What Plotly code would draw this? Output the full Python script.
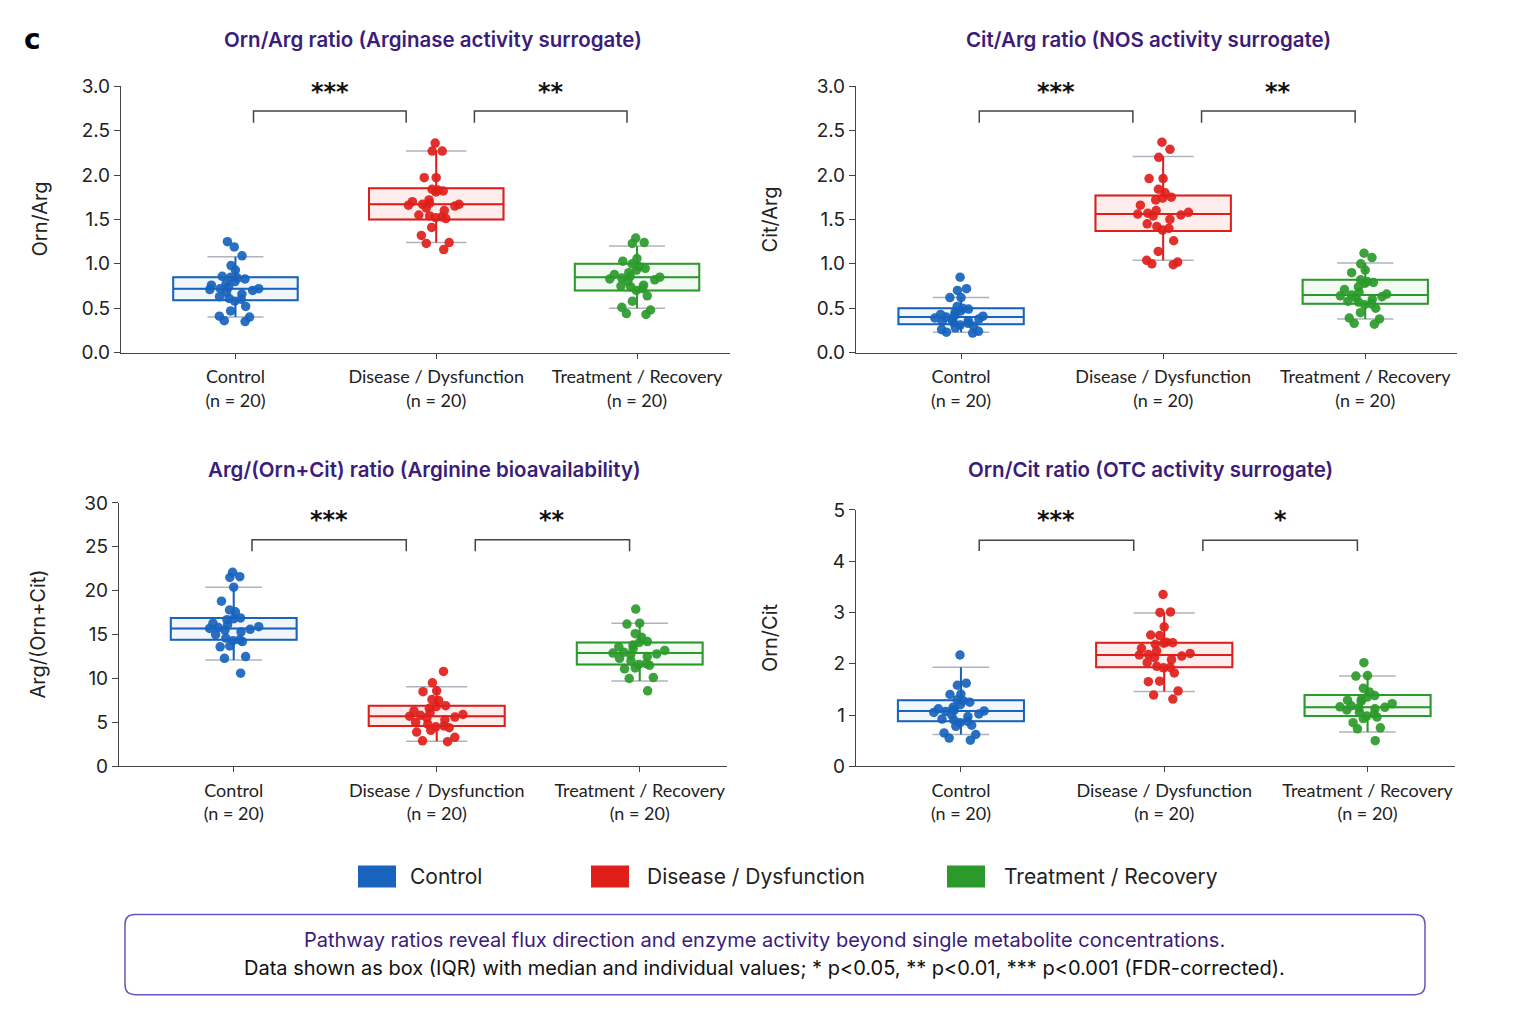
import plotly.graph_objects as go

W, H = 1536, 1024

groups = ["Control", "Disease / Dysfunction", "Treatment / Recovery"]
group_n = [20, 20, 20]
colors = ["#1763bd", "#e01f1b", "#2b9a2b"]
fills = ["rgba(23,99,189,0.06)", "rgba(224,31,27,0.08)", "rgba(43,154,43,0.06)"]
cap_color = "rgba(120,130,145,0.6)"

panel_titles = [
    "Orn/Arg ratio (Arginase activity surrogate)",
    "Cit/Arg ratio (NOS activity surrogate)",
    "Arg/(Orn+Cit) ratio (Arginine bioavailability)",
    "Orn/Cit ratio (OTC activity surrogate)",
]
y_titles = ["Orn/Arg", "Cit/Arg", "Arg/(Orn+Cit)", "Orn/Cit"]
y_ranges = [[0, 3], [0, 3], [0, 30], [0, 5]]
y_dticks = [0.5, 0.5, 5, 1]
y_formats = [".1f", ".1f", "d", "d"]

# ---- individual values (per panel, per group) ----
orn_arg_control = [1.25, 1.19, 1.09, 0.98, 0.93, 0.86, 0.85, 0.84, 0.83, 0.80, 0.78, 0.76, 0.74, 0.72,
                   0.72, 0.71, 0.70, 0.68, 0.66, 0.63, 0.61, 0.60, 0.58, 0.52, 0.47, 0.41, 0.40, 0.35, 0.36]
orn_arg_disease = [2.36, 2.27, 2.27, 1.97, 1.97, 1.84, 1.83, 1.82, 1.81, 1.72, 1.70, 1.68, 1.67, 1.67,
                   1.66, 1.65, 1.63, 1.60, 1.55, 1.54, 1.53, 1.52, 1.51, 1.41, 1.32, 1.24, 1.23, 1.16]
orn_arg_treatment = [1.29, 1.24, 1.23, 1.06, 1.03, 1.00, 0.97, 0.95, 0.93, 0.90, 0.88, 0.86, 0.85, 0.84,
                     0.83, 0.82, 0.80, 0.76, 0.75, 0.74, 0.72, 0.70, 0.64, 0.58, 0.51, 0.48, 0.43, 0.44]

cit_arg_control = [0.85, 0.72, 0.70, 0.62, 0.62, 0.52, 0.50, 0.49, 0.47, 0.45, 0.43, 0.42, 0.41, 0.40,
                   0.39, 0.38, 0.37, 0.36, 0.35, 0.34, 0.33, 0.31, 0.30, 0.28, 0.26, 0.23, 0.22, 0.24]
cit_arg_disease = [2.37, 2.29, 2.20, 1.96, 1.96, 1.84, 1.80, 1.75, 1.74, 1.72, 1.66, 1.60, 1.58, 1.57,
                   1.56, 1.55, 1.54, 1.50, 1.45, 1.42, 1.40, 1.38, 1.26, 1.14, 1.04, 1.00, 0.99, 1.02]
cit_arg_treatment = [1.12, 1.07, 1.00, 0.93, 0.90, 0.82, 0.80, 0.79, 0.78, 0.74, 0.71, 0.68, 0.66, 0.65,
                     0.64, 0.63, 0.62, 0.60, 0.58, 0.57, 0.55, 0.54, 0.50, 0.45, 0.39, 0.38, 0.32, 0.33]

arg_bio_control = [22.1, 21.5, 21.6, 20.4, 18.8, 17.8, 17.6, 16.9, 16.8, 16.7, 16.3, 16.1, 15.9, 15.8,
                   15.7, 15.6, 15.5, 15.3, 15.0, 14.6, 14.4, 14.3, 14.2, 13.7, 13.6, 12.5, 12.3, 10.6]
arg_bio_disease = [10.8, 9.5, 8.6, 8.5, 7.6, 7.5, 6.9, 6.8, 6.6, 6.3, 6.1, 5.9, 5.8, 5.7,
                   5.6, 5.5, 5.3, 5.0, 4.8, 4.6, 4.5, 4.4, 4.1, 3.9, 3.3, 2.8, 2.9]
arg_bio_treatment = [17.9, 16.3, 16.2, 15.1, 14.7, 14.2, 14.1, 13.8, 13.6, 13.4, 13.2, 13.0, 12.9, 12.8,
                     12.7, 12.5, 12.3, 12.0, 11.7, 11.6, 11.5, 11.2, 11.1, 10.1, 10.0, 8.6]

orn_cit_control = [2.17, 1.62, 1.58, 1.41, 1.40, 1.30, 1.28, 1.25, 1.20, 1.15, 1.12, 1.10, 1.08, 1.07,
                   1.05, 1.02, 1.00, 0.97, 0.92, 0.90, 0.88, 0.85, 0.80, 0.78, 0.65, 0.62, 0.55, 0.51]
orn_cit_disease = [3.35, 3.00, 3.01, 2.72, 2.56, 2.55, 2.42, 2.41, 2.40, 2.38, 2.30, 2.25, 2.20, 2.18,
                   2.17, 2.15, 2.12, 2.08, 2.02, 1.95, 1.93, 1.92, 1.82, 1.66, 1.65, 1.47, 1.39, 1.31]
orn_cit_treatment = [2.02, 1.76, 1.77, 1.52, 1.45, 1.38, 1.35, 1.30, 1.29, 1.27, 1.22, 1.18, 1.16, 1.15,
                     1.14, 1.12, 1.10, 1.05, 1.02, 0.98, 0.96, 0.93, 0.85, 0.75, 0.73, 0.50]

panel_points = [
    [orn_arg_control, orn_arg_disease, orn_arg_treatment],
    [cit_arg_control, cit_arg_disease, cit_arg_treatment],
    [arg_bio_control, arg_bio_disease, arg_bio_treatment],
    [orn_cit_control, orn_cit_disease, orn_cit_treatment],
]

# ---- box statistics (q1, median, q3, lower whisker, upper whisker) per group ----
q1_vals = [[0.59, 1.50, 0.70], [0.32, 1.37, 0.55], [14.4, 4.6, 11.6], [0.88, 1.93, 0.98]]
median_vals = [[0.72, 1.67, 0.85], [0.40, 1.56, 0.65], [15.7, 5.7, 12.9], [1.08, 2.17, 1.15]]
q3_vals = [[0.85, 1.85, 1.00], [0.50, 1.77, 0.82], [16.9, 6.9, 14.1], [1.29, 2.41, 1.39]]
low_vals = [[0.40, 1.24, 0.50], [0.23, 1.04, 0.38], [12.1, 2.85, 9.7], [0.62, 1.46, 0.67]]
high_vals = [[1.08, 2.27, 1.20], [0.62, 2.21, 1.01], [20.4, 9.05, 16.3], [1.93, 2.99, 1.76]]

# ---- significance brackets ----
sig_labels = [["***", "**"], ["***", "**"], ["***", "**"], ["***", "*"]]
bracket_x = [[0.09, 0.85], [1.19, 1.95]]
bracket_top = [2.72, 2.72, 25.8, 4.41]
bracket_leg = [2.59, 2.59, 24.5, 4.20]
star_y = [2.93, 2.93, 28.0, 4.80]

# ---- layout geometry (pixels) ----
def Y(py):
    # compensate the vertical mapping observed in the rendered page
    return (py - 11.9) / 0.976

px_x = [(121, 730), (856, 1457), (119, 727), (856, 1455)]
px_y = [(87, 353), (87, 353), (503, 766), (510, 766)]
x_ranges = [[-0.57, 2.463], [-0.52, 2.454], [-0.565, 2.43], [-0.516, 2.43]]
title_pos = [(433, 40), (1148, 40), (424, 470), (1150, 470)]
ytitle_x = [40, 770, 38, 770]

box_widths = [0.62, 0.67, 0.62]

fig = go.Figure()
title_purple = "#3b1c7a"
FONT = "Lato"
FONT2 = "Inter"

for p in range(4):
    sfx = "" if p == 0 else str(p + 1)
    xa, ya = "x" + sfx, "y" + sfx
    for g in range(3):
        stats = dict(q1=[q1_vals[p][g]], median=[median_vals[p][g]], q3=[q3_vals[p][g]],
                     lowerfence=[low_vals[p][g]], upperfence=[high_vals[p][g]])
        fig.add_trace(go.Box(x=[g], orientation="v", **stats, width=box_widths[g], whiskerwidth=0.45,
                             line=dict(color=cap_color, width=1.5), fillcolor="rgba(0,0,0,0)",
                             boxpoints=False, showlegend=False, hoverinfo="skip", xaxis=xa, yaxis=ya))
        fig.add_trace(go.Box(x=[g], orientation="v", **stats, width=box_widths[g], whiskerwidth=0,
                             line=dict(color=colors[g], width=2), fillcolor=fills[g],
                             boxpoints=False, showlegend=False, name=groups[g], xaxis=xa, yaxis=ya))
        vals = panel_points[p][g]
        fig.add_trace(go.Box(x=[g] * len(vals), y=vals, orientation="v", width=box_widths[g],
                             boxpoints="all", jitter=0.45, pointpos=0,
                             line=dict(width=0, color="rgba(0,0,0,0)"), fillcolor="rgba(0,0,0,0)",
                             marker=dict(color=colors[g], size=9.5, opacity=0.92, line=dict(width=0)),
                             hoveron="points", showlegend=False, name=groups[g], xaxis=xa, yaxis=ya))

    for k in range(2):
        x0, x1 = bracket_x[k]
        fig.add_shape(type="path", xref=xa, yref=ya,
                      path=f"M {x0},{bracket_leg[p]} L {x0},{bracket_top[p]} L {x1},{bracket_top[p]} L {x1},{bracket_leg[p]}",
                      line=dict(color="#444444", width=1.5))
        fig.add_annotation(xref=xa, yref=ya, x=(x0 + x1) / 2, y=star_y[p], text=f"<b>{sig_labels[p][k]}</b>",
                           showarrow=False, font=dict(size=24, color="#111111", family="DejaVu Sans"),
                           yanchor="middle")

    dom_x = [px_x[p][0] / W, px_x[p][1] / W]
    dom_y = [1 - Y(px_y[p][1]) / H, 1 - Y(px_y[p][0]) / H]
    ticktext = [f"{groups[g]}<br>(n = {group_n[g]})" for g in range(3)]
    fig.update_layout(**{
        "xaxis" + sfx: dict(domain=dom_x, range=x_ranges[p], anchor=ya, tickvals=[0, 1, 2], ticktext=ticktext,
                            showline=True, linecolor="#444444", linewidth=1.2, ticks="outside", ticklen=5,
                            tickcolor="#444444", showgrid=False, zeroline=False, ticklabelstandoff=3,
                            tickfont=dict(size=18, color="#222222", family=FONT)),
        "yaxis" + sfx: dict(domain=dom_y, range=y_ranges[p], anchor=xa, dtick=y_dticks[p], tick0=0,
                            tickformat=y_formats[p], showline=True, linecolor="#444444", linewidth=1.2,
                            ticks="outside", ticklen=6, tickcolor="#444444", showgrid=False, zeroline=False,
                            tickfont=dict(size=19, color="#222222", family=FONT2)),
    })
    fig.add_annotation(xref="paper", yref="paper", x=title_pos[p][0] / W, y=1 - Y(title_pos[p][1]) / H,
                       text=panel_titles[p], showarrow=False, xanchor="center", yanchor="middle",
                       font=dict(size=20.5, color=title_purple, family=FONT2, weight=600))
    fig.add_annotation(xref="paper", yref="paper", x=ytitle_x[p] / W, y=(dom_y[0] + dom_y[1]) / 2,
                       text=y_titles[p], textangle=-90, showarrow=False, xanchor="center", yanchor="middle",
                       font=dict(size=20, color="#222222", family=FONT2))

fig.add_annotation(xref="paper", yref="paper", x=32 / W, y=1 - Y(40) / H, text="<b>c</b>", showarrow=False,
                   font=dict(size=28, color="#000000", family="DejaVu Sans"), xanchor="center", yanchor="middle")

legend_rect_x = [358, 591, 947]
legend_text_x = [408, 645, 1002]
for g in range(3):
    fig.add_shape(type="rect", xref="paper", yref="paper",
                  x0=legend_rect_x[g] / W, x1=(legend_rect_x[g] + 38) / W,
                  y0=1 - Y(887) / H, y1=1 - Y(865) / H, fillcolor=colors[g], line=dict(width=0))
    fig.add_annotation(xref="paper", yref="paper", x=legend_text_x[g] / W, y=1 - Y(876) / H, text=groups[g],
                       showarrow=False, xanchor="left", yanchor="middle",
                       font=dict(size=21, color="#222222", family=FONT2))

bx0, bx1, by0, by1, rad = 125, 1425, Y(914), Y(994), 10
def P(x, y):
    return f"{x / W},{1 - y / H}"
path = (f"M {P(bx0 + rad, by0)} L {P(bx1 - rad, by0)} Q {P(bx1, by0)} {P(bx1, by0 + rad)} "
        f"L {P(bx1, by1 - rad)} Q {P(bx1, by1)} {P(bx1 - rad, by1)} L {P(bx0 + rad, by1)} "
        f"Q {P(bx0, by1)} {P(bx0, by1 - rad)} L {P(bx0, by0 + rad)} Q {P(bx0, by0)} {P(bx0 + rad, by0)} Z")
fig.add_shape(type="path", xref="paper", yref="paper", path=path, line=dict(color="#6a55c0", width=1.5),
              fillcolor="rgba(0,0,0,0)")
fig.add_annotation(xref="paper", yref="paper", x=764 / W, y=1 - Y(939) / H,
                   text="Pathway ratios reveal flux direction and enzyme activity beyond single metabolite concentrations.",
                   showarrow=False, xanchor="center", yanchor="middle",
                   font=dict(size=20, color=title_purple, family=FONT2))
fig.add_annotation(xref="paper", yref="paper", x=764 / W, y=1 - Y(967) / H,
                   text="Data shown as box (IQR) with median and individual values; * p<0.05, ** p<0.01, *** p<0.001 (FDR-corrected).",
                   showarrow=False, xanchor="center", yanchor="middle",
                   font=dict(size=20, color="#111111", family=FONT2))

fig.update_layout(width=W, height=H, margin=dict(l=0, r=0, t=0, b=0), plot_bgcolor="white",
                  paper_bgcolor="white", boxmode="overlay", showlegend=False,
                  font=dict(family=FONT))

fig.write_html("out.html")
